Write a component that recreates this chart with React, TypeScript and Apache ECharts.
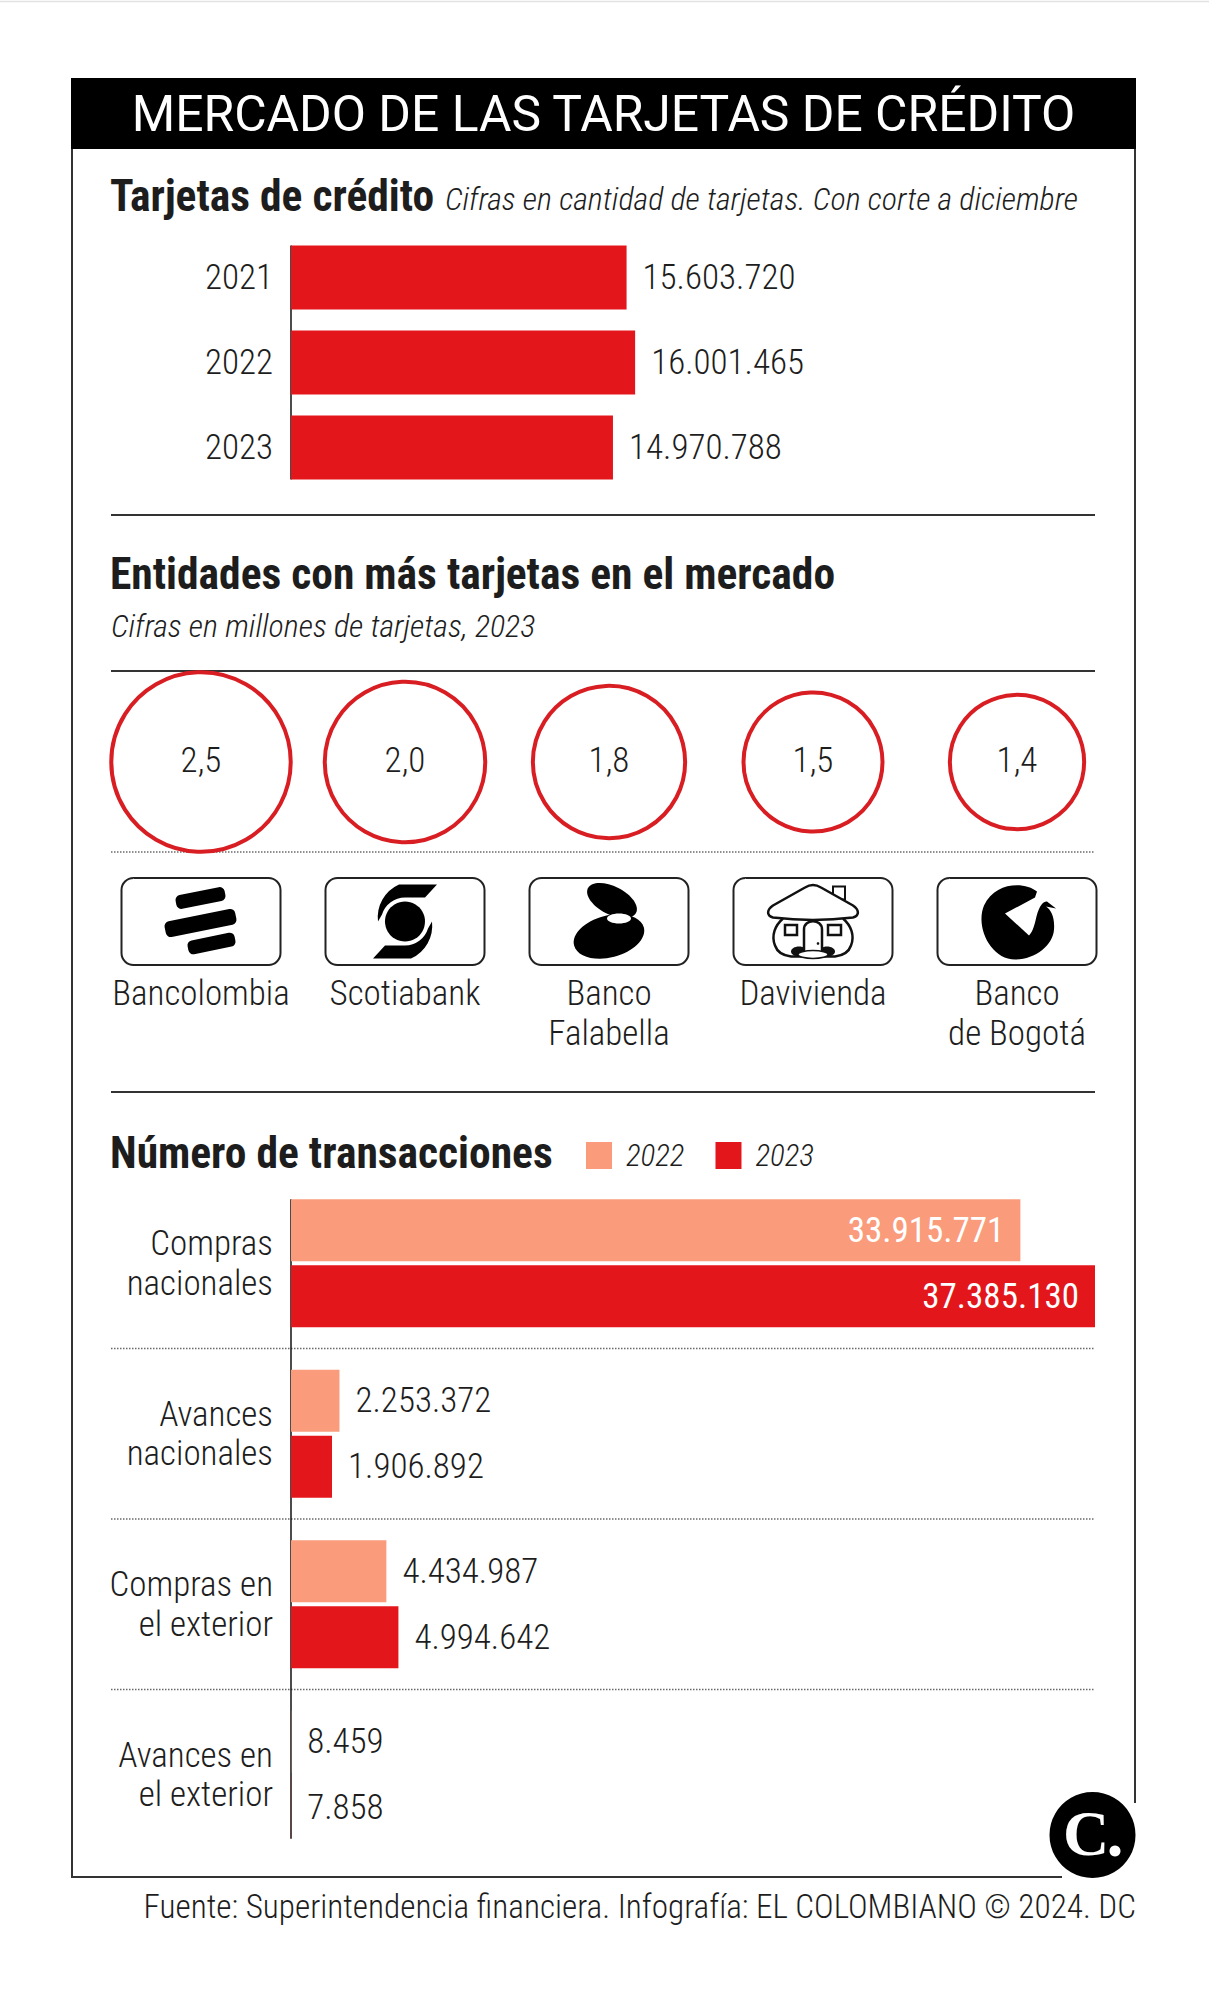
import React, { useEffect, useRef } from "react";
import * as echarts from "echarts";

// ---------- DATA ----------
const years = ["2021", "2022", "2023"];
const cardCounts = [15603720, 16001465, 14970788];

const banks = ["Bancolombia", "Scotiabank", "Banco\nFalabella", "Davivienda", "Banco\nde Bogotá"];
const bankCards = [2.5, 2.0, 1.8, 1.5, 1.4];

const txCategories = ["Compras\nnacionales", "Avances\nnacionales", "Compras en\nel exterior", "Avances en\nel exterior"];
const txYears = ["2022", "2023"];
const tx2022 = [33915771, 2253372, 4434987, 8459];
const tx2023 = [37385130, 1906892, 4994642, 7858];

// ---------- STYLE ----------
const FONT = "'Roboto Condensed', 'Liberation Sans Narrow', 'DejaVu Sans Condensed', Roboto, sans-serif";
const FONT_WIDE = "Roboto, 'Noto Sans', sans-serif";
const TXT = "#1d1d1d";
const RED = "#E3161B";
const SALMON = "#FA9C7B";
const CIRCLE = "#D81E23";
const BODY = 35;

const fmt = (n: number) => String(n).replace(/\B(?=(\d{3})+(?!\d))/g, ".");

// ---------- LOGO SHAPES ----------
const SCOTIA_D =
  "M 32 -37 L 20 -24 L 0 -24 A 24 24 0 0 0 -23 -7 L -27 0 A 36 36 0 0 1 -6 -37 Z " +
  "M -32 37 L -20 24 L 0 24 A 24 24 0 0 0 23 7 L 27 0 A 36 36 0 0 1 6 37 Z";
const BOGOTA_D =
  "M 20 -30 C 8 -40 -22 -40 -33 -16 C -42 6 -26 38 -2 38 C 18 38 36 24 37 8 C 38 -4 34 -12 29 -15 " +
  "L 39 -13 L 30 -20 C 25 -21 21 -12 19 -3 C 17 6 15 11 12 14 L -12 -8 L 18 -24 Z";
const DAVI_ROOF_D =
  "M -40 -4 C -47 -6 -46 -12 -40 -16 L -8 -34 C -3 -37 3 -37 8 -34 L 40 -16 C 46 -12 47 -6 40 -4 C 15 -1 -15 -1 -40 -4 Z";
const DAVI_BODY_D =
  "M -30 -3 C -38 4 -42 14 -38 24 C -36 30 -30 34 -22 35 L 22 35 C 30 34 36 30 38 24 C 42 14 38 4 30 -3";
const DAVI_DOOR_D = "M -9 34 L -9 8 C -9 -3 9 -3 9 8 L 9 34";

echarts.graphic.registerShape("scotiaArms", echarts.graphic.extendPath(SCOTIA_D, {}));
echarts.graphic.registerShape("bogotaBird", echarts.graphic.extendPath(BOGOTA_D, {}));
echarts.graphic.registerShape("daviRoof", echarts.graphic.extendPath(DAVI_ROOF_D, {}));
echarts.graphic.registerShape("daviBody", echarts.graphic.extendPath(DAVI_BODY_D, {}));
echarts.graphic.registerShape("daviDoor", echarts.graphic.extendPath(DAVI_DOOR_D, {}));

// ---------- LAYOUT ----------
const G0 = { left: 291, top: 235, width: 804, height: 255 };
const G1 = { left: 99, top: 672, width: 1020, height: 180 };
const G2 = { left: 291, top: 1178, width: 804, height: 682 };
const BAR0 = 64;
const BAR2 = 62;
const GAP2 = 4;
const XMAX = Math.max(...tx2022, ...tx2023);
const BOX_Y = 921.5;

function buildGraphic() {
  const els: any[] = [];
  const txt = (x: number, y: number, text: string, o: any = {}) => ({
    type: "text",
    x,
    y,
    silent: true,
    style: {
      text,
      fontFamily: FONT,
      fontSize: BODY,
      fontWeight: 300,
      fill: TXT,
      align: "left",
      verticalAlign: "middle",
      ...o,
    },
  });
  const hline = (y: number, x1: number, x2: number, dotted: boolean) => ({
    type: "line",
    silent: true,
    shape: { x1, y1: y, x2, y2: y },
    style: dotted
      ? { stroke: "#6a6a6a", lineWidth: 1.5, lineDash: [1.5, 1.5] }
      : { stroke: "#333", lineWidth: 2 },
  });
  const vline = (x: number, y1: number, y2: number) => ({
    type: "line",
    silent: true,
    shape: { x1: x, y1, x2: x, y2 },
    style: { stroke: "#111", lineWidth: 1.5 },
  });

  // faint top rule
  els.push({ type: "line", silent: true, shape: { x1: 0, y1: 1.5, x2: 1209, y2: 1.5 }, style: { stroke: "#e2e2e2", lineWidth: 1.5 } });
  // frame
  els.push({
    type: "polyline",
    silent: true,
    shape: { points: [[1062, 1877], [72, 1877], [72, 79], [1135, 79], [1135, 1803]] },
    style: { stroke: "#333", lineWidth: 2, fill: null },
  });
  // header
  els.push({ type: "rect", silent: true, shape: { x: 71, y: 78, width: 1065, height: 71 }, style: { fill: "#000" } });
  els.push(txt(603.5, 114, "MERCADO DE LAS TARJETAS DE CRÉDITO", { fill: "#fff", fontFamily: FONT_WIDE, fontSize: 49.8, fontWeight: 400, align: "center" }));

  // section 1
  els.push(txt(110, 196, "Tarjetas de crédito", { fontSize: 43.5, fontWeight: "bold" }));
  els.push(txt(445, 199, "Cifras en cantidad de tarjetas. Con corte a diciembre", { fontSize: 32, fontStyle: "italic" }));
  // axis line of the first bar chart, spanning the bars only
  const b0 = G0.height / years.length;
  els.push(vline(G0.left, G0.top + (b0 - BAR0) / 2, G0.top + G0.height - (b0 - BAR0) / 2));
  els.push(hline(515, 111, 1095, false));

  // section 2
  els.push(txt(110, 574, "Entidades con más tarjetas en el mercado", { fontSize: 43.5, fontWeight: "bold" }));
  els.push(txt(111, 625.5, "Cifras en millones de tarjetas, 2023", { fontSize: 32, fontStyle: "italic" }));
  els.push(hline(671, 111, 1095, false));
  els.push(hline(852, 111, 1095, true));

  // logo boxes
  const band = G1.width / banks.length;
  const cx = banks.map((_, i) => G1.left + band * (i + 0.5));
  cx.forEach((x) => {
    els.push({
      type: "rect",
      silent: true,
      x,
      y: BOX_Y,
      shape: { x: -79.5, y: -43.5, width: 159, height: 87, r: 12 },
      style: { fill: "#fff", stroke: "#222", lineWidth: 2 },
    });
  });
  // Bancolombia
  const bc = cx[0];
  [
    [-0.5, -23.5, 50, 14],
    [-0.5, 1.5, 72, 16],
    [10.5, 22, 48, 14],
  ].forEach(([dx, dy, w, h]) => {
    els.push({
      type: "rect",
      silent: true,
      x: bc + dx,
      y: BOX_Y + dy,
      rotation: 0.2,
      shape: { x: -w / 2, y: -h / 2, width: w, height: h, r: 5 },
      style: { fill: "#000" },
    });
  });
  // Scotiabank
  els.push({ type: "scotiaArms", silent: true, x: cx[1], y: BOX_Y, style: { fill: "#000" } });
  els.push({ type: "circle", silent: true, shape: { cx: cx[1], cy: BOX_Y, r: 20 }, style: { fill: "#000" } });
  // Falabella
  els.push({ type: "ellipse", silent: true, x: cx[2] + 3, y: BOX_Y - 21, rotation: -0.47, shape: { cx: 0, cy: 0, rx: 27, ry: 14 }, style: { fill: "#000" } });
  els.push({ type: "ellipse", silent: true, x: cx[2], y: BOX_Y + 15, rotation: 0.25, shape: { cx: 0, cy: 0, rx: 36, ry: 21 }, style: { fill: "#000" } });
  els.push({ type: "ellipse", silent: true, x: cx[2] + 10, y: BOX_Y - 3, shape: { cx: 0, cy: 0, rx: 12, ry: 5 }, style: { fill: "#fff" } });
  // Davivienda
  const dv = cx[3];
  els.push({ type: "rect", silent: true, shape: { x: dv + 20, y: BOX_Y - 35, width: 12, height: 13 }, style: { fill: "#fff", stroke: "#111", lineWidth: 2 } });
  els.push({ type: "daviBody", silent: true, x: dv, y: BOX_Y, style: { fill: "#fff", stroke: "#111", lineWidth: 2.5 } });
  els.push({ type: "daviRoof", silent: true, x: dv, y: BOX_Y, style: { fill: "#fff", stroke: "#111", lineWidth: 2.5 } });
  els.push({ type: "rect", silent: true, shape: { x: dv - 28, y: BOX_Y + 3.5, width: 12, height: 10 }, style: { fill: "#fff", stroke: "#111", lineWidth: 2.5 } });
  els.push({ type: "rect", silent: true, shape: { x: dv + 15, y: BOX_Y + 3.5, width: 13, height: 10 }, style: { fill: "#fff", stroke: "#111", lineWidth: 2.5 } });
  els.push({ type: "ellipse", silent: true, shape: { cx: dv - 14, cy: BOX_Y + 30, rx: 8, ry: 5 }, style: { fill: "#111" } });
  els.push({ type: "ellipse", silent: true, shape: { cx: dv + 14, cy: BOX_Y + 30, rx: 8, ry: 5 }, style: { fill: "#111" } });
  els.push({ type: "daviDoor", silent: true, x: dv, y: BOX_Y, style: { fill: "#fff", stroke: "#111", lineWidth: 2.5 } });
  els.push({ type: "ellipse", silent: true, shape: { cx: dv, cy: BOX_Y + 33, rx: 15, ry: 4 }, style: { fill: "#fff", stroke: "#111", lineWidth: 1.5 } });
  els.push({ type: "circle", silent: true, shape: { cx: dv + 5, cy: BOX_Y + 22, r: 1.3 }, style: { fill: "#111" } });
  // Banco de Bogotá
  els.push({ type: "bogotaBird", silent: true, x: cx[4], y: BOX_Y, style: { fill: "#000" } });

  els.push(hline(1092, 111, 1095, false));

  // section 3
  els.push(txt(110, 1153, "Número de transacciones", { fontSize: 43.5, fontWeight: "bold" }));
  const b3 = G2.height / txCategories.length;
  for (let k = 1; k < txCategories.length; k++) {
    els.push(hline(G2.top + b3 * k, 111, 1095, true));
  }
  const grp = 2 * BAR2 + GAP2;
  els.push(vline(G2.left, G2.top + (b3 - grp) / 2, G2.top + G2.height - (b3 - grp) / 2));

  // logo El Colombiano
  els.push({ type: "circle", silent: true, shape: { cx: 1092.5, cy: 1835, r: 43 }, style: { fill: "#000" } });
  els.push({
    type: "text",
    silent: true,
    x: 1086,
    y: 1833,
    style: {
      text: "C",
      fontFamily: "'Liberation Serif', 'DejaVu Serif', serif",
      fontWeight: "bold",
      fontSize: 64,
      fill: "#fff",
      align: "center",
      verticalAlign: "middle",
    },
  });
  els.push({ type: "circle", silent: true, shape: { cx: 1115, cy: 1851, r: 5.5 }, style: { fill: "#fff" } });

  // footer
  els.push(txt(1136, 1906, "Fuente: Superintendencia financiera. Infografía: EL COLOMBIANO © 2024. DC", { fontSize: 33.2, align: "right" }));
  return els;
}

function buildOption(): any {
  const baseLabel = { fontFamily: FONT, fontSize: BODY, fontWeight: 300, color: TXT };
  const txItem = (v: number) =>
    v > XMAX / 2
      ? { value: v, label: { position: "insideRight", color: "#fff", distance: 16, fontWeight: 400 } }
      : v;
  const txSeries = (name: string, data: number[], color: string) => ({
    type: "bar",
    name,
    xAxisIndex: 2,
    yAxisIndex: 2,
    data: data.map(txItem),
    barWidth: BAR2,
    barGap: ((GAP2 / BAR2) * 100).toFixed(2) + "%",
    itemStyle: { color },
    silent: true,
    label: { show: true, position: "right", distance: 16, formatter: (p: any) => fmt(p.value), ...baseLabel },
  });
  return {
    animation: false,
    backgroundColor: "#fff",
    textStyle: { fontFamily: FONT },
    legend: {
      data: txYears,
      left: 586,
      top: 1140,
      padding: 0,
      itemWidth: 26,
      itemHeight: 27,
      itemGap: 31,
      icon: "rect",
      selectedMode: false,
      textStyle: { fontFamily: FONT, fontSize: 31, fontWeight: 300, fontStyle: "italic", color: TXT, padding: [0, 0, 0, 9] },
    },
    grid: [G0, G1, G2].map((g) => ({ ...g, containLabel: false })),
    xAxis: [
      { gridIndex: 0, type: "value", min: 0, max: XMAX, show: false },
      {
        gridIndex: 1,
        type: "category",
        data: banks,
        axisLine: { show: false },
        axisTick: { show: false },
        axisLabel: { interval: 0, margin: 122, lineHeight: 39.5, verticalAlign: "top", ...baseLabel },
      },
      { gridIndex: 2, type: "value", min: 0, max: XMAX, show: false },
    ],
    yAxis: [
      {
        gridIndex: 0,
        type: "category",
        data: years,
        inverse: true,
        axisLine: { show: false },
        axisTick: { show: false },
        axisLabel: { margin: 18, ...baseLabel },
      },
      { gridIndex: 1, type: "value", min: 0, max: 2, show: false },
      {
        gridIndex: 2,
        type: "category",
        data: txCategories,
        inverse: true,
        axisLine: { show: false },
        axisTick: { show: false },
        axisLabel: { margin: 18, lineHeight: 39.5, align: "right", padding: [0, 0, 10, 0], ...baseLabel },
      },
    ],
    series: [
      {
        type: "bar",
        xAxisIndex: 0,
        yAxisIndex: 0,
        data: cardCounts,
        barWidth: BAR0,
        silent: true,
        itemStyle: { color: RED },
        label: { show: true, position: "right", distance: 16, formatter: (p: any) => fmt(p.value), ...baseLabel },
      },
      {
        type: "scatter",
        xAxisIndex: 1,
        yAxisIndex: 1,
        silent: true,
        data: bankCards.map((v, i) => [i, 1, v]),
        symbolSize: (d: number[]) => 113.5 * Math.sqrt(d[2]),
        itemStyle: { color: "rgba(255,255,255,0)", borderColor: CIRCLE, borderWidth: 4, opacity: 1 },
        label: {
          show: true,
          position: "inside",
          offset: [0, -2],
          formatter: (p: any) => p.value[2].toFixed(1).replace(".", ","),
          ...baseLabel,
        },
      },
      txSeries(txYears[0], tx2022, SALMON),
      txSeries(txYears[1], tx2023, RED),
    ],
    graphic: buildGraphic(),
  };
}

export default function App() {
  const ref = useRef<HTMLDivElement>(null);
  useEffect(() => {
    if (!ref.current) return;
    const chart = echarts.init(ref.current, undefined, { renderer: "svg" });
    chart.setOption(buildOption());
    return () => chart.dispose();
  }, []);
  return (
    <div
      ref={ref}
      style={{ position: "absolute", left: 0, top: 0, width: 1209, height: 2000, background: "#fff" }}
    />
  );
}
